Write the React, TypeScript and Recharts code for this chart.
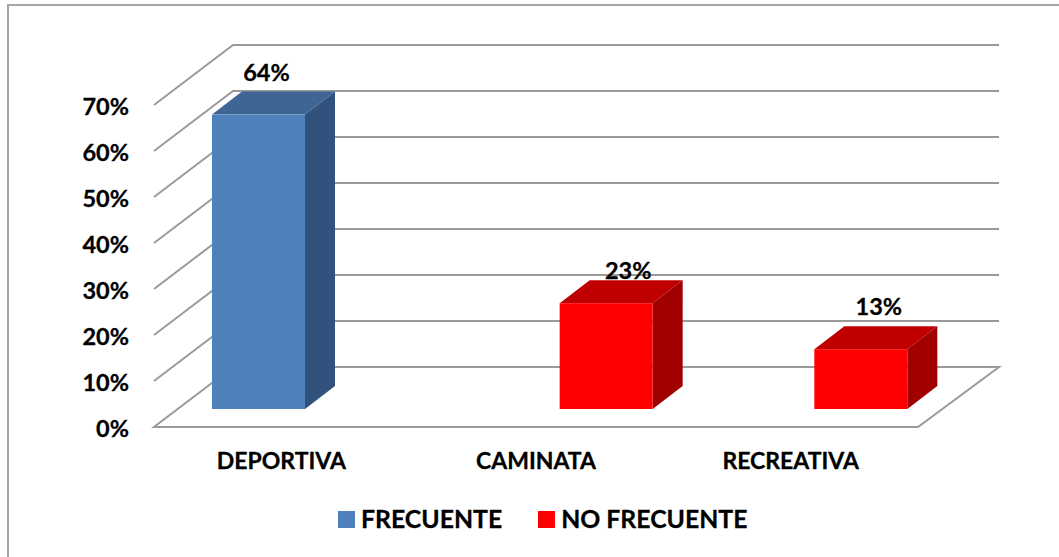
import React from 'react';
import { BarChart, Bar, XAxis, YAxis, CartesianGrid, Legend, LabelList } from 'recharts';

const categories = ['DEPORTIVA', 'CAMINATA', 'RECREATIVA'];
const frecuente = [64, null, null];
const noFrecuente = [null, 23, 13];
const yTicks = [0, 10, 20, 30, 40, 50, 60, 70];

const chartData = categories.map((name, i) => ({
  name,
  frecuente: frecuente[i],
  noFrecuente: noFrecuente[i],
}));

const FONT = 'Lato, sans-serif';
const GRID = '#9a9a9a';

// fake 3d: wall depth, how far the bars sit in from the floor edge, bar depth
const WALL_DX = 79;
const WALL_DY = 60;
const WALL_RIGHT = 81;
const BAR_SHIFT_X = 24;
const BAR_SHIFT_Y = 18;
const BAR_DX = 30;
const BAR_DY = 23;

// the labels were dragged by hand in the original
// LabelList counts only the bars that exist, so one list per series
const frecuenteNudge = [{ dx: 32, dy: -52 }];
const noFrecuenteNudge = [
  { dx: 46, dy: -42 },
  { dx: 42, dy: -52 },
];

function gridLine(props: any) {
  const { x1, x2, y1, index } = props;
  const backY = y1 - WALL_DY;
  const isFloor = index === 0 || Math.abs(y1 - 427) < 1;
  const d = isFloor
    ? `M${x1},${y1} L${x2},${y1} L${x2 + WALL_DX + 2},${backY} L${x1 + WALL_DX},${backY} Z`
    : `M${x1},${y1} L${x1 + WALL_DX},${backY} L${x2 + WALL_RIGHT},${backY}`;
  return <path key={`grid-${y1}`} d={d} fill="none" stroke={GRID} strokeWidth={2} />;
}

function makeBox(front: string, top: string, side: string) {
  return function Box(props: any) {
    const { x, y, width, height } = props;
    if (!height) return <g />;
    const l = x + BAR_SHIFT_X;
    const r = l + width;
    const t = y - BAR_SHIFT_Y;
    const b = t + height;
    return (
      <g>
        <path d={`M${l},${t} L${l + BAR_DX},${t - BAR_DY} L${r + BAR_DX},${t - BAR_DY} L${r},${t} Z`} fill={top} />
        <path d={`M${r},${t} L${r + BAR_DX},${t - BAR_DY} L${r + BAR_DX},${b - BAR_DY} L${r},${b} Z`} fill={side} />
        <rect x={l} y={t} width={width} height={height} fill={front} />
      </g>
    );
  };
}

function makeLabel(nudges: { dx: number; dy: number }[]) {
  return function PercentLabel(props: any) {
    const { x, y, width, value, index } = props;
    if (value == null) return null;
    const nudge = nudges[index];
    return (
      <text
        x={x + width / 2 + nudge.dx}
        y={y + nudge.dy}
        textAnchor="middle"
        fontFamily={FONT}
        fontWeight={700}
        fontSize={23.5}
        fill="#000"
        stroke="#000"
        strokeWidth={0.3}
      >
        {value}%
      </text>
    );
  };
}

function LegendRow({ payload }: any) {
  return (
    <div
      style={{
        display: 'flex',
        fontFamily: FONT,
        fontWeight: 700,
        fontSize: 24.8,
        lineHeight: '30px',
        color: '#000',
        WebkitTextStroke: '0.3px #000',
      }}
    >
      {payload.map((item: any) => (
        <div key={item.value} style={{ display: 'flex', alignItems: 'center', marginRight: 36 }}>
          <span style={{ width: 17, height: 17, background: item.color, marginRight: 6 }} />
          <span>{item.value}</span>
        </div>
      ))}
    </div>
  );
}

export default function App() {
  return (
    <div style={{ position: 'absolute', left: 0, top: 0, width: 1059, height: 557, overflow: 'hidden', background: '#fff' }}>
      <div style={{ position: 'absolute', left: 7, top: 4, width: 1100, height: 600, border: '2px solid #a6a6a6' }} />
      <div style={{ position: 'absolute', left: 0, top: 0 }}>
        <BarChart
          width={1059}
          height={557}
          data={chartData}
          margin={{ top: 105, right: 141, bottom: 0, left: 54 }}
          barSize={93}
          barGap={0}
        >
          <CartesianGrid vertical={false} horizontal={gridLine} />
          <XAxis
            dataKey="name"
            height={130}
            axisLine={false}
            tickLine={false}
            tickMargin={20}
            interval={0}
            tick={{ fontFamily: FONT, fontWeight: 700, fontSize: 23, fill: '#000', stroke: '#000', strokeWidth: 0.3 }}
          />
          <YAxis
            width={100}
            domain={[0, 70]}
            ticks={yTicks}
            interval={0}
            axisLine={false}
            tickLine={false}
            tickSize={0}
            tickMargin={25}
            dy={2}
            tickFormatter={(v: number) => `${v}%`}
            tick={{ fontFamily: FONT, fontWeight: 700, fontSize: 23.5, fill: '#000', stroke: '#000', strokeWidth: 0.3 }}
          />
          <Legend
            layout="horizontal"
            verticalAlign="middle"
            align="center"
            content={<LegendRow />}
            wrapperStyle={{ left: 338, top: 504, width: 480 }}
          />
          <Bar
            dataKey="frecuente"
            name="FRECUENTE"
            fill="#4f81bd"
            shape={makeBox('#4f81bd', '#3e6594', '#31527c')}
            isAnimationActive={false}
          >
            <LabelList dataKey="frecuente" content={makeLabel(frecuenteNudge)} />
          </Bar>
          <Bar
            dataKey="noFrecuente"
            name="NO FRECUENTE"
            fill="#ff0000"
            shape={makeBox('#ff0000', '#c00000', '#a00000')}
            isAnimationActive={false}
          >
            <LabelList dataKey="noFrecuente" content={makeLabel(noFrecuenteNudge)} />
          </Bar>
        </BarChart>
      </div>
    </div>
  );
}
